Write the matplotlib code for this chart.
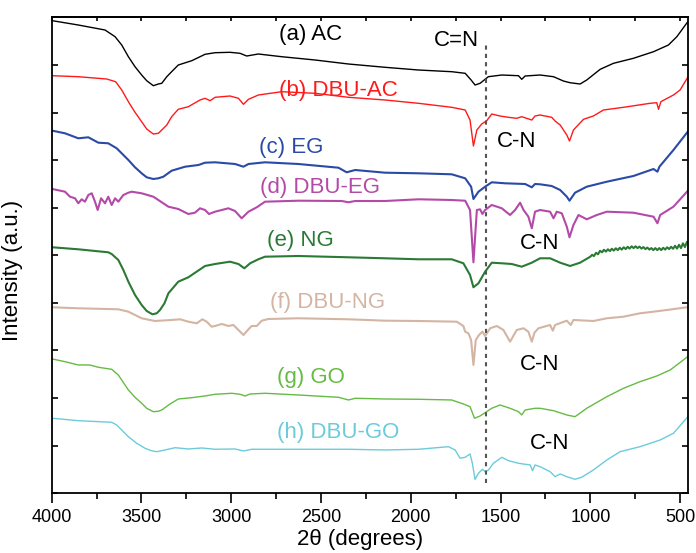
import matplotlib
matplotlib.use("Agg")
import matplotlib.pyplot as plt
from matplotlib.ticker import MultipleLocator, NullFormatter

plt.rcParams['font.family'] = ['Liberation Sans', 'DejaVu Sans']

# wavenumber (cm-1) / intensity (a.u., stacked)
wn_ac = [3996, 3852, 3703, 3647, 3610, 3573, 3536, 3499, 3471, 3434, 3406, 3387, 3359, 3332, 3295, 3220,
         3146, 3090, 3007, 2951, 2914, 2849, 2719, 2533, 2347, 2143, 1957, 1772, 1697, 1664, 1642, 1614,
         1568, 1493, 1400, 1382, 1363, 1280, 1205, 1150, 1113, 1057, 1020, 945, 871, 760, 648, 565,
         518, 453]
y_ac = [472.6, 468.3, 463.3, 456.6, 448.3, 436.6, 426.6, 418.3, 412.6, 407.6, 409.3, 410, 416.6, 421.6, 428.3, 432.6,
        439, 440.6, 441, 440, 437.3, 439.3, 436.6, 433.3, 429.3, 426, 423.3, 421.6, 420, 413.3, 408.3, 410,
        416.6, 418.3, 417.6, 414, 417.3, 418.3, 416.6, 412.3, 410.6, 409.3, 413.3, 424, 430, 435, 441.6, 448.3,
        456.6, 472.6]

wn_dbu_ac = [3996, 3852, 3694, 3644, 3610, 3573, 3536, 3499, 3471, 3434, 3406, 3387, 3359, 3332, 3295, 3239,
             3174, 3146, 3118, 3090, 3007, 2960, 2932, 2904, 2849, 2719, 2533, 2347, 2143, 1957, 1772, 1697,
             1670, 1651, 1632, 1605, 1577, 1549, 1503, 1456, 1410, 1382, 1326, 1308, 1280, 1215, 1196, 1168,
             1131, 1116, 1094, 1038, 983, 927, 815, 667, 630, 620, 607, 537, 500, 453]
y_dbu_ac = [417.6, 416.6, 414.3, 411.6, 403.3, 391.6, 381, 371.6, 364.3, 359.3, 360, 363.3, 368.3, 376.6, 384, 386.6,
            393.3, 395, 392.6, 396, 397.3, 395, 389, 394, 398.3, 401.6, 400, 396, 393.3, 390, 386, 383.3,
            373.3, 347.3, 363.3, 369.3, 372.6, 379.3, 377.3, 376, 375, 376.6, 373.3, 377.3, 378.3, 376, 372.3, 368.3,
            358.3, 352.3, 363.3, 374, 377.3, 383.3, 386, 390, 390.6, 384, 391.6, 398.3, 403.3, 417.3]

wn_eg = [3996, 3926, 3852, 3796, 3740, 3685, 3638, 3573, 3536, 3499, 3471, 3434, 3406, 3378, 3332, 3257,
         3183, 3146, 3090, 2979, 2932, 2904, 2812, 2626, 2403, 2357, 2310, 2143, 1957, 1772, 1697, 1664,
         1651, 1623, 1586, 1549, 1475, 1363, 1326, 1308, 1280, 1215, 1168, 1131, 1116, 1085, 1020, 908,
         760, 648, 626, 615, 537, 453]
y_eg = [362.6, 360, 355, 356, 350.6, 350, 345, 333.3, 326, 320, 316, 314.3, 315, 316.6, 322.6, 326.6,
        328.3, 330.6, 331, 329.3, 326.6, 329.3, 331, 329.3, 325.6, 321, 323.3, 320.6, 320, 319, 315, 306.6,
        294.3, 301.6, 306.6, 311, 310, 309.3, 306, 309.3, 309, 307.3, 303.3, 296.6, 292.6, 300.6, 306.6, 311.6,
        317.3, 324.3, 321.6, 326.6, 343.3, 362.6]

wn_dbu_eg = [3996, 3926, 3898, 3870, 3852, 3833, 3815, 3796, 3777, 3759, 3744, 3725, 3703, 3685, 3666, 3647,
             3629, 3601, 3573, 3555, 3499, 3434, 3350, 3295, 3239, 3202, 3174, 3146, 3124, 3090, 3016, 2979,
             2942, 2904, 2858, 2812, 2626, 2385, 2347, 2310, 2143, 1957, 1772, 1697, 1670, 1651, 1632, 1614,
             1601, 1586, 1549, 1493, 1447, 1419, 1391, 1372, 1345, 1326, 1308, 1280, 1224, 1205, 1187, 1159,
             1131, 1116, 1094, 1066, 1020, 964, 908, 760, 648, 626, 611, 537, 453]
y_dbu_eg = [304.3, 301.6, 296.6, 295, 290, 294, 291.6, 298.3, 300, 291.6, 283.3, 295, 290, 296.6, 288.3, 295,
            291.6, 298.3, 300.6, 301.6, 300, 296.6, 286.6, 284.3, 279.3, 280.6, 285, 283.3, 279.3, 281.6, 285, 282.3,
            275, 281.6, 286, 291.6, 292.6, 292.3, 291, 292.3, 292.3, 294, 293.3, 292.6, 283.3, 231, 283.3, 284,
            279.3, 283.3, 288.3, 285, 278.3, 283.3, 290.6, 283.3, 276.6, 265, 281.6, 283.3, 281.6, 275, 281.6, 280,
            266.6, 256, 268.3, 278.3, 274, 278.3, 281.6, 280.6, 276.6, 270, 278.3, 286.6, 303.3]

wn_ng = [3996, 3852, 3685, 3666, 3629, 3601, 3573, 3536, 3499, 3471, 3439, 3415, 3397, 3372, 3350, 3295,
         3239, 3146, 3090, 3007, 2960, 2927, 2895, 2849, 2812, 2626, 2347, 2143, 1957, 1772, 1707, 1670,
         1651, 1623, 1586, 1549, 1493, 1438, 1382, 1326, 1280, 1224, 1168, 1113, 1057, 1000, 990, 980,
         968, 957, 946, 935, 924, 913, 902, 891, 880, 869, 858, 847, 836, 825, 814, 803,
         792, 781, 770, 759, 748, 737, 726, 715, 704, 693, 682, 671, 660, 649, 638, 627,
         616, 605, 594, 583, 572, 561, 550, 539, 528, 517, 506, 495, 484, 473, 462, 455]
y_ng = [246, 244, 241, 239.3, 233.3, 223.3, 211.6, 198.3, 188.3, 182.3, 179, 180, 183.3, 190, 200, 211.6,
        216, 227.3, 229.3, 231.6, 229.3, 225, 230, 234, 236.6, 237.3, 236, 235, 234, 234, 230, 218.3,
        206, 210, 221.6, 230.6, 230, 229.3, 226.6, 230.6, 235, 235, 230.6, 227.3, 230.6, 236.6, 238.5, 237.2,
        240.5, 239, 242.5, 241, 243.5, 241.7, 244, 242.2, 244.5, 242.7, 245, 243.2, 245.5, 243.7, 246, 244.2,
        246.5, 244.7, 247, 245.2, 247, 245.2, 246.7, 244.7, 246.2, 244.2, 245.7, 243.7, 245.2, 243.2, 245.2, 243.2,
        245.2, 243.2, 245.5, 243.7, 246, 244.2, 246.5, 244.5, 247.5, 244.7, 248.5, 245.2, 250, 246.2, 251.5, 249]

wn_dbu_ng = [3996, 3852, 3629, 3573, 3499, 3425, 3332, 3285, 3239, 3192, 3161, 3137, 3109, 3090, 3053, 3016,
             2988, 2960, 2932, 2904, 2886, 2858, 2830, 2793, 2626, 2347, 2143, 1957, 1744, 1707, 1697, 1679,
             1664, 1651, 1638, 1620, 1601, 1586, 1558, 1521, 1484, 1447, 1410, 1372, 1345, 1326, 1311, 1289,
             1224, 1209, 1196, 1131, 1109, 1094, 983, 908, 815, 723, 648, 574, 463]
y_dbu_ng = [186, 185, 184, 181.6, 175, 172.3, 173.3, 174, 171.6, 170, 174, 171.6, 166.6, 167.3, 169.3, 167.3,
            168.3, 163.3, 158.3, 164, 167.3, 167.3, 172.6, 174.3, 175, 174, 172.6, 172.3, 171.6, 167.3, 161.6, 160,
            153.3, 128.3, 153.3, 158.3, 161.6, 157.3, 165, 167.3, 163.3, 151.6, 163.3, 165, 161.6, 151.6, 160.6, 165,
            168.3, 162.6, 168.3, 172.6, 168.3, 173.3, 172.3, 175, 176.6, 180, 181.6, 183.3, 186]

wn_go = [3996, 3926, 3852, 3787, 3740, 3666, 3629, 3573, 3536, 3499, 3471, 3434, 3406, 3387, 3341, 3295,
         3220, 3146, 3090, 2997, 2951, 2923, 2895, 2812, 2626, 2403, 2347, 2310, 2143, 1957, 1772, 1707,
         1670, 1645, 1614, 1586, 1549, 1503, 1447, 1400, 1382, 1363, 1308, 1280, 1205, 1131, 1085, 1020,
         908, 815, 723, 630, 555, 453]
y_go = [134.3, 131.6, 128.3, 128.3, 126, 124, 118.3, 103.3, 96, 90, 85, 81.6, 82, 83.3, 89.3, 94.3,
        95.6, 97.3, 99, 100, 99, 97.3, 99.3, 100, 98.3, 96, 93.3, 95, 94.3, 94, 93.3, 89.3,
        86.6, 75, 77.3, 80.6, 85, 88.3, 85, 81.6, 78.3, 83.3, 85, 85, 82.6, 78.3, 76.6, 85,
        96.6, 105, 111.6, 117.3, 123.3, 137.3]

wn_dbu_go = [3996, 3852, 3666, 3638, 3573, 3527, 3480, 3446, 3415, 3369, 3313, 3239, 3164, 3090, 2979, 2932,
             2886, 2626, 2347, 2143, 1957, 1790, 1753, 1725, 1697, 1670, 1657, 1642, 1623, 1601, 1586, 1567,
             1540, 1493, 1456, 1400, 1335, 1322, 1308, 1280, 1224, 1196, 1168, 1131, 1085, 1048, 983, 908,
             834, 723, 611, 537, 453]
y_dbu_go = [75, 72.6, 71, 68.3, 56.6, 50, 45, 42.6, 41.6, 43.3, 45.6, 44.3, 45.3, 44, 44.3, 42.3,
            44, 44, 44, 43.3, 44, 46.6, 43.3, 35, 36, 39.3, 30, 13.9, 20, 24, 21.6, 23.3,
            30, 36, 32.6, 30, 28.3, 22.6, 28.3, 26.6, 21.6, 16.6, 19.3, 16.6, 14, 16, 23.3, 33.3,
            41.6, 46.6, 53.3, 60, 77.3]

names = ['(a) AC', '(b) DBU-AC', '(c) EG', '(d) DBU-EG', '(e) NG', '(f) DBU-NG', '(g) GO', '(h) DBU-GO']
colors = ['#000000', '#ff1a1a', '#2a4aa6', '#b44aa8', '#2a7a35', '#d4b4a2', '#66bb44', '#6ccbdb']
widths = [1.0, 1.0, 1.5, 1.5, 1.5, 1.5, 1.0, 1.0]
label_wn = [2556, 2405, 2667, 2505, 2617, 2466, 2555, 2405]
label_y = [459, 403, 346, 306, 253, 191, 116, 61]

cn_wn = [1408, 1285, 1280, 1224]
cn_y = [352, 250, 129, 50]

series = [(wn_ac, y_ac), (wn_dbu_ac, y_dbu_ac), (wn_eg, y_eg), (wn_dbu_eg, y_dbu_eg),
          (wn_ng, y_ng), (wn_dbu_ng, y_dbu_ng), (wn_go, y_go), (wn_dbu_go, y_dbu_go)]

fig = plt.figure(figsize=(6.96, 5.53), dpi=100)
ax = fig.add_axes([0.0743, 0.108, 0.9147, 0.8607])

for (wn, yy), c, lw in zip(series, colors, widths):
    ax.plot(wn, yy, color=c, lw=lw, solid_joinstyle='round')

for name, c, xw, yw in zip(names, colors, label_wn, label_y):
    ax.text(xw, yw, name, color=c, fontsize=16, ha='center', va='center')

# C=N marker line and labels
ax.plot([1582, 1582], [10, 450], color='#555555', lw=1.5, ls=(0, (2, 2)))
ax.text(1748, 453, 'C=N', fontsize=16, ha='center', va='center')
for xw, yw in zip(cn_wn, cn_y):
    ax.text(xw, yw, 'C-N', fontsize=16, ha='center', va='center')

ax.set_xlim(4000, 454)
ax.set_ylim(0, 476)
ax.xaxis.set_major_locator(MultipleLocator(500))
ax.xaxis.set_minor_locator(MultipleLocator(250))
ax.yaxis.set_major_locator(MultipleLocator(47.6))
ax.yaxis.set_major_formatter(NullFormatter())

ax.tick_params(axis='x', which='major', direction='out', length=7, width=1.2, labelsize=13, pad=4)
ax.tick_params(axis='x', which='minor', direction='out', length=4, width=1.2)
ax.tick_params(axis='y', which='major', direction='in', length=4, width=1.2, right=True)

top = ax.secondary_xaxis('top')
top.xaxis.set_major_locator(MultipleLocator(250))
top.tick_params(direction='in', length=3, width=1.2, labeltop=False)

for s in ax.spines.values():
    s.set_linewidth(1.3)
top.spines['top'].set_linewidth(1.3)

ax.set_xlabel('2θ (degrees)', fontsize=16)
ax.xaxis.set_label_coords(0.484, -0.075)
ax.set_ylabel('Intensity (a.u.)', fontsize=16)
ax.yaxis.set_label_coords(-0.045, 0.469)

fig.savefig('out.png', dpi=100)
